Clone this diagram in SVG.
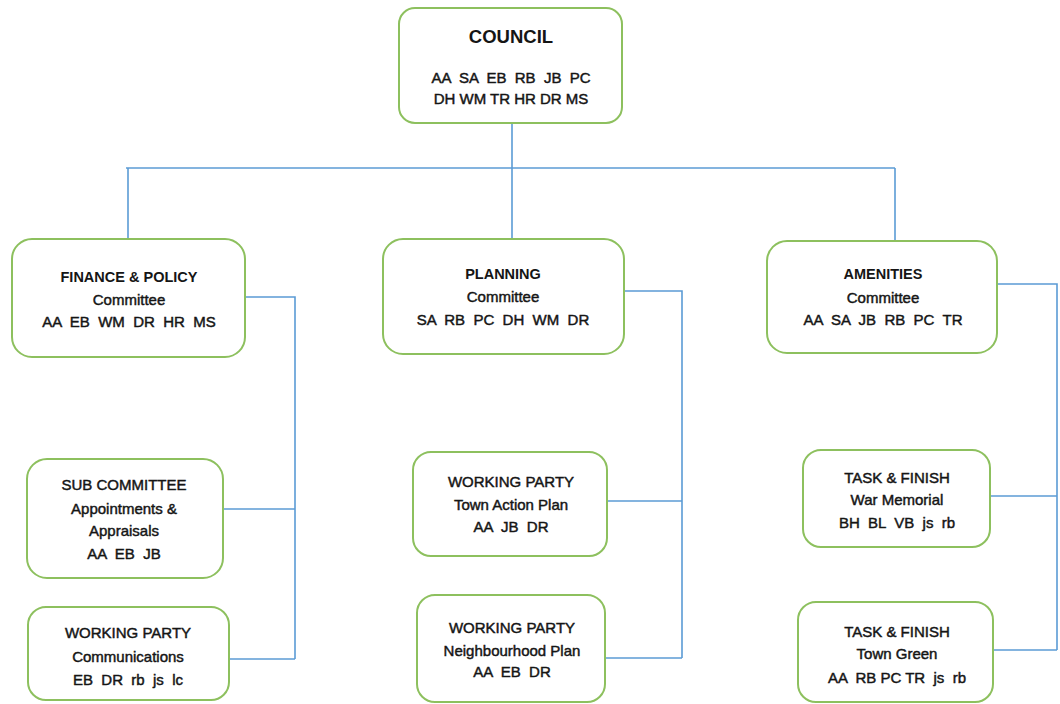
<svg xmlns="http://www.w3.org/2000/svg" width="1060" height="704" viewBox="0 0 1060 704">
<style>
.box{fill:#fff;stroke:#8dc05e;stroke-width:2}
.con{fill:none;stroke:#5b9bd5;stroke-width:1.6}
text{font-family:"Liberation Sans",Arial,sans-serif;fill:#151515;text-anchor:middle;white-space:pre}
.t{font-size:14.5px;font-weight:bold}
.b{font-size:15px;stroke:#151515;stroke-width:0.45}
.big{font-size:18.5px;font-weight:bold}
</style>
<rect width="1060" height="704" fill="#fff"/>
<g id="connectors">
<path class="con" d="M512,123 V239"/>
<path class="con" d="M126,168 H895"/>
<path class="con" d="M128,168 V239"/>
<path class="con" d="M895,168 V241"/>
<path class="con" d="M245,297 H295 V659"/>
<path class="con" d="M222,509 H295"/>
<path class="con" d="M229,659 H295"/>
<path class="con" d="M624,291 H682 V658"/>
<path class="con" d="M607,501 H682"/>
<path class="con" d="M605,658 H682"/>
<path class="con" d="M997,284 H1057 V650"/>
<path class="con" d="M990,496 H1057"/>
<path class="con" d="M993,650 H1057"/>
</g>
<g id="council">
<rect class="box" x="399" y="8" width="223" height="115" rx="16"/>
<text class="big" x="511" y="43">COUNCIL</text>
<text class="b" x="511" y="83">AA  SA  EB  RB  JB  PC</text>
<text class="b" x="511" y="104">DH WM TR HR DR MS</text>
</g>
<g id="finance">
<rect class="box" x="12" y="239" width="233" height="118" rx="20"/>
<text class="t" x="129" y="282">FINANCE &amp; POLICY</text>
<text class="b" x="129" y="305">Committee</text>
<text class="b" x="129" y="327">AA  EB  WM  DR  HR  MS</text>
</g>
<g id="planning">
<rect class="box" x="383" y="239" width="241" height="115" rx="20"/>
<text class="t" x="503" y="279">PLANNING</text>
<text class="b" x="503" y="302">Committee</text>
<text class="b" x="503" y="325">SA  RB  PC  DH  WM  DR</text>
</g>
<g id="amenities">
<rect class="box" x="767" y="241" width="230" height="112" rx="20"/>
<text class="t" x="883" y="279">AMENITIES</text>
<text class="b" x="883" y="303">Committee</text>
<text class="b" x="883" y="325">AA  SA  JB  RB  PC  TR</text>
</g>
<g id="subcommittee">
<rect class="box" x="27" y="459" width="196" height="119" rx="20"/>
<text class="b" x="124" y="490">SUB COMMITTEE</text>
<text class="b" x="124" y="514">Appointments &amp;</text>
<text class="b" x="124" y="536">Appraisals</text>
<text class="b" x="124" y="559">AA  EB  JB</text>
</g>
<g id="communications">
<rect class="box" x="28" y="607" width="201" height="93" rx="18"/>
<text class="b" x="128" y="638">WORKING PARTY</text>
<text class="b" x="128" y="662">Communications</text>
<text class="b" x="128" y="685">EB  DR  rb  js  lc</text>
</g>
<g id="townactionplan">
<rect class="box" x="413" y="452" width="194" height="104" rx="18"/>
<text class="b" x="511" y="487">WORKING PARTY</text>
<text class="b" x="511" y="510">Town Action Plan</text>
<text class="b" x="511" y="532">AA  JB  DR</text>
</g>
<g id="neighbourhoodplan">
<rect class="box" x="417" y="595" width="188" height="107" rx="18"/>
<text class="b" x="512" y="633">WORKING PARTY</text>
<text class="b" x="512" y="656">Neighbourhood Plan</text>
<text class="b" x="512" y="677">AA  EB  DR</text>
</g>
<g id="warmemorial">
<rect class="box" x="803" y="450" width="187" height="97" rx="18"/>
<text class="b" x="897" y="483">TASK &amp; FINISH</text>
<text class="b" x="897" y="505">War Memorial</text>
<text class="b" x="897" y="528">BH  BL  VB  js  rb</text>
</g>
<g id="towngreen">
<rect class="box" x="798" y="602" width="195" height="100" rx="18"/>
<text class="b" x="897" y="637">TASK &amp; FINISH</text>
<text class="b" x="897" y="659">Town Green</text>
<text class="b" x="897" y="683">AA  RB PC TR  js  rb</text>
</g>
</svg>
